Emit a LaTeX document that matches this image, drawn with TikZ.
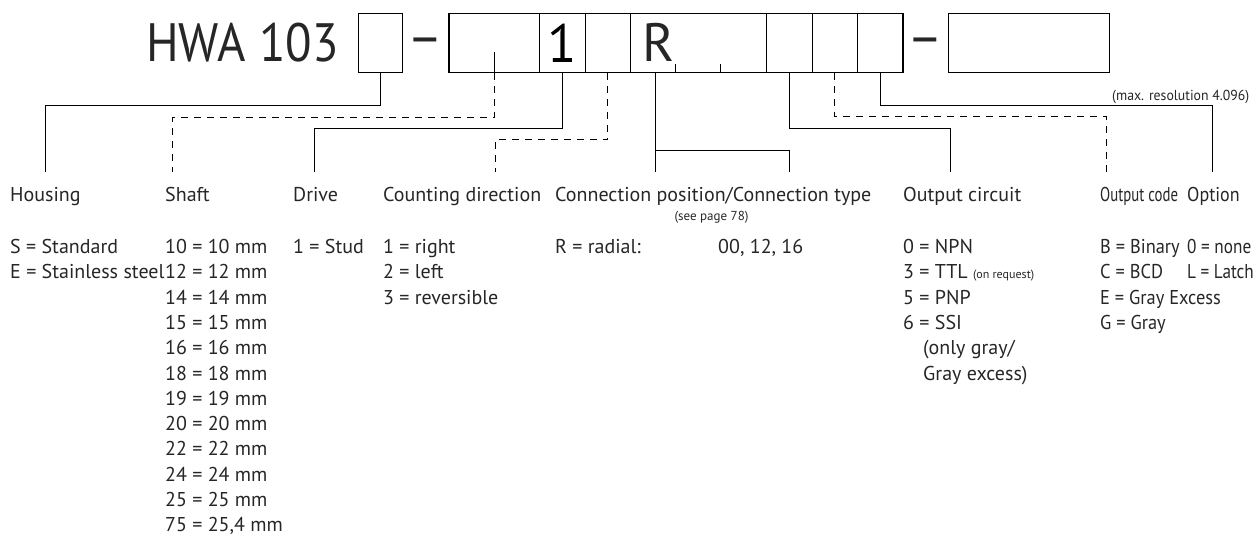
\documentclass[tikz,border=0pt]{standalone}
\usepackage{fontspec}
\setmainfont{PT Sans}
\usetikzlibrary{positioning}

\newcommand{\squeeze}[2]{\scalebox{#1}[1]{#2}}

\begin{document}
\begin{tikzpicture}[
  x=1pt, y=-1pt,
  field/.style={
    draw=black,
    line width=1.1pt,
    minimum height=59pt,
    inner sep=0pt,
    font=\fontsize{54}{54}\selectfont
  },
  big/.style={
    inner sep=0pt,
    font=\fontsize{54}{54}\selectfont,
    text=black!85
  },
  link/.style={
    line width=1.1pt
  },
  dlink/.style={
    line width=1.1pt,
    dash pattern=on 7pt off 6pt
  },
  head/.style={
    anchor=base west,
    inner sep=0pt,
    font=\fontsize{20}{24}\selectfont,
    text=black!85
  },
  entry/.style={
    anchor=base west,
    inner sep=0pt,
    font=\fontsize{20}{24}\selectfont,
    text=black!85
  },
  note/.style={
    inner sep=0pt,
    font=\fontsize{13}{15}\selectfont,
    text=black!85
  }
]
\useasboundingbox (0,0) rectangle (1257,538);

% type code
\node[big, anchor=base west] (hwa) at (146,61) {\squeeze{0.9}{HWA 103}};
\node[field, minimum width=44pt]   (fHouse) at (380.3,42.8) {};
\node[big] (dashA) at (425.5,46.7) {–};
\node[field, minimum width=90.8pt] (fShaft) at (494.4,42.8) {};
\node[field, minimum width=45.4pt] (fDrive) at (562.5,42.8) {1};
\node[field, minimum width=45.4pt] (fCount) at (607.9,42.8) {};
\node[field, minimum width=136.2pt] (fConn) at (698.7,42.8) {};
\node[big, anchor=base] (cR) at (658.5,61) {R};
\node[field, minimum width=45.4pt] (fOut)   at (789.5,42.8) {};
\node[field, minimum width=45.4pt] (fCode)  at (834.9,42.8) {};
\node[field, minimum width=45.4pt] (fOpt)   at (880.3,42.8) {};
\node[big] (dashB) at (925,46.7) {–};
\node[field, minimum width=161pt]  (fRes)   at (1028.8,42.8) {};
\node[note, anchor=base west, font=\fontsize{14.5}{16}\selectfont] (res) at (1112,100)
  {\squeeze{0.95}{(max. resolution 4.096)}};

% digit marks
\draw[link] (fShaft.south) -- ++(0,-21.3);
\draw[link] (fConn.south west) ++(45.4,0) -- ++(0,-9);
\draw[link] (fConn.south west) ++(90.8,0) -- ++(0,-9);

% line ends above the headings
\coordinate (eHouse) at (45.3,171.7);
\coordinate (eShaft) at (172.3,171.7);
\coordinate (eDrive) at (314.3,171.7);
\coordinate (eCount) at (495.3,171.7);
\coordinate (eConnA) at (655.3,171.7);
\coordinate (eConnB) at (789.5,171.7);
\coordinate (eOut)   at (950.7,171.7);
\coordinate (eCode)  at (1106.7,171.7);
\coordinate (eOpt)   at (1212.7,171.7);

\draw[link]  (fHouse.south) -- ++(0,32.7) -| (eHouse);
\draw[dlink] (fShaft.south) -- ++(0,44.2) -| (eShaft);
\draw[link]  (fDrive.south) -- ++(0,55.3) -| (eDrive);
\draw[dlink] (fCount.south) -- ++(0,67)   -| (eCount);
\draw[link]  (fConn.south -| eConnA) -- (eConnA);
\draw[link]  (eConnB) -- ++(0,-21) -| (eConnA);
\draw[link]  (fOut.south)  -- ++(0,55.4) -| (eOut);
\draw[dlink] (fCode.south) -- ++(0,43.7) -| (eCode);
\draw[link]  (fOpt.south)  -- ++(0,32.7) -| (eOpt);

% headings
\node[head] (lHouse) at (10,201)   {Housing};
\node[head] (lShaft) at (165,201)  {Shaft};
\node[head] (lDrive) at (293,201)  {Drive};
\node[head] (lCount) at (383,201)  {Counting direction};
\node[head] (lConn)  at (555,201)  {Connection position/Connection type};
\node[note, anchor=base] (lSee) at (711.5,220) {(see page 78)};
\node[head] (lOut)   at (903,201)  {Output circuit};
\node[head] (lCode)  at (1100,201) {\squeeze{0.74}{Output code}};
\node[head] (lOpt)   at (1187,201) {\squeeze{0.9}{Option}};

% values
\foreach \v [count=\i from 0] in {S = Standard, E = Stainless steel}
  \node[entry] (vHouse\i) at (10,{253.5+25.3*\i}) {\v};
\foreach \v [count=\i from 0] in {10 = 10 mm, 12 = 12 mm, 14 = 14 mm, 15 = 15 mm,
    16 = 16 mm, 18 = 18 mm, 19 = 19 mm, 20 = 20 mm, 22 = 22 mm, 24 = 24 mm,
    25 = 25 mm, {75 = 25,4 mm}}
  \node[entry] (vShaft\i) at (165,{253.5+25.3*\i}) {\v};
\node[entry] (vDrive0) at (293,253.5) {1 = Stud};
\foreach \v [count=\i from 0] in {1 = right, 2 = left, 3 = reversible}
  \node[entry] (vCount\i) at (383,{253.5+25.3*\i}) {\v};
\node[entry] (vConn0) at (555,253.5) {R = radial:};
\node[entry] (vConn1) at (718,253.5) {00, 12, 16};
\foreach \v [count=\i from 0] in {0 = NPN,
    3 = TTL {\fontsize{12}{14}\selectfont (on request)}, 5 = PNP, 6 = SSI}
  \node[entry] (vOut\i) at (903,{253.5+25.3*\i}) {\v};
\node[entry] (vOut4) at (923,354.7) {(only gray/};
\node[entry] (vOut5) at (923,380) {Gray excess)};
\foreach \v [count=\i from 0] in {B = Binary, C = BCD, E = Gray Excess, G = Gray}
  \node[entry] (vCode\i) at (1100,{253.5+25.3*\i}) {\squeeze{0.92}{\v}};
\foreach \v [count=\i from 0] in {0 = none, L = Latch}
  \node[entry] (vOpt\i) at (1187,{253.5+25.3*\i}) {\squeeze{0.86}{\v}};

\end{tikzpicture}
\end{document}
